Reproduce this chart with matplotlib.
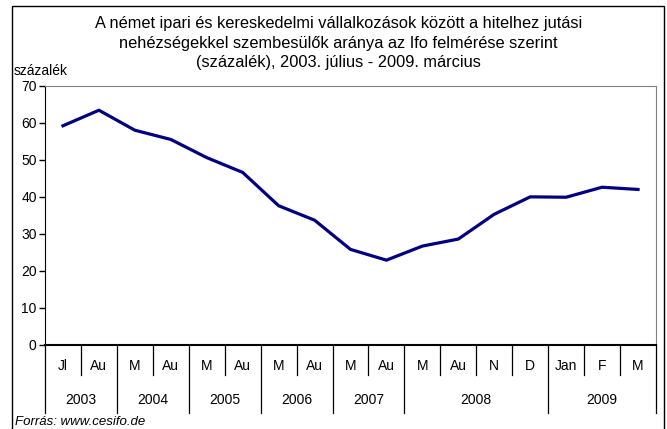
import matplotlib
matplotlib.use('Agg')
import matplotlib.pyplot as plt
from matplotlib.patches import Rectangle

plt.rcParams['font.family'] = ['Liberation Sans', 'DejaVu Sans']

months = ['Jl', 'Au', 'M', 'Au', 'M', 'Au', 'M', 'Au', 'M', 'Au',
          'M', 'Au', 'N', 'D', 'Jan', 'F', 'M']
values = [59.2, 63.4, 58.0, 55.5, 50.6, 46.6, 37.6, 33.7, 25.8, 22.9,
          26.7, 28.6, 35.3, 40.0, 39.9, 42.6, 42.0]
years = ['2003', '2004', '2005', '2006', '2007', '2008', '2009']
year_counts = [2, 2, 2, 2, 2, 4, 3]

title = ('A német ipari és kereskedelmi vállalkozások között a hitelhez jutási\n'
         'nehézségekkel szembesülők aránya az Ifo felmérése szerint\n'
         '(százalék), 2003. július - 2009. március')

fig = plt.figure(figsize=(6.67, 4.29), dpi=100)
ax = fig.add_axes([0.0675, 0.196, 0.916, 0.604])

x = list(range(len(values)))
ax.plot(x, values, color='#000080', lw=2.3, solid_joinstyle='round')
ax.set_xlim(-0.5, len(values) - 0.5)
ax.set_ylim(0, 70)
ax.set_yticks(range(0, 71, 10))
ax.tick_params(axis='y', labelsize=10, length=4, width=1, pad=2)
ax.set_xticks([])

for side in ['top', 'right']:
    ax.spines[side].set_color('#808080')
ax.spines['left'].set_color('black')
ax.spines['bottom'].set_color('black')
ax.spines['bottom'].set_linewidth(1.5)

# category axis: month labels and separators
trans = ax.get_xaxis_transform()
year_edges = [0]
for c in year_counts:
    year_edges.append(year_edges[-1] + c)

for i in range(len(values) + 1):
    bottom = -0.262 if i in year_edges else -0.116
    ax.plot([i - 0.5, i - 0.5], [0, bottom], color='black', lw=0.9,
            transform=trans, clip_on=False)

for i, m in enumerate(months):
    ax.text(i, -0.081, m, transform=trans, ha='center', va='center', fontsize=10)

for j, y in enumerate(years):
    mid = (year_edges[j] + year_edges[j + 1]) / 2 - 0.5
    ax.text(mid, -0.214, y, transform=trans, ha='center', va='center', fontsize=10)

fig.text(0.507, 0.963, title, ha='center', va='top', fontsize=11.8, linespacing=1.39)
fig.text(0.02, 0.834, 'százalék', ha='left', va='center', fontsize=10)
fig.text(0.022, 0.017, 'Forrás: www.cesifo.de', ha='left', va='center',
         fontsize=9.5, style='italic')

fig.patches.append(Rectangle((0.018, -0.01), 0.978, 0.997, transform=fig.transFigure,
                             fill=False, edgecolor='black', lw=1))

fig.savefig('out.png', dpi=100)
